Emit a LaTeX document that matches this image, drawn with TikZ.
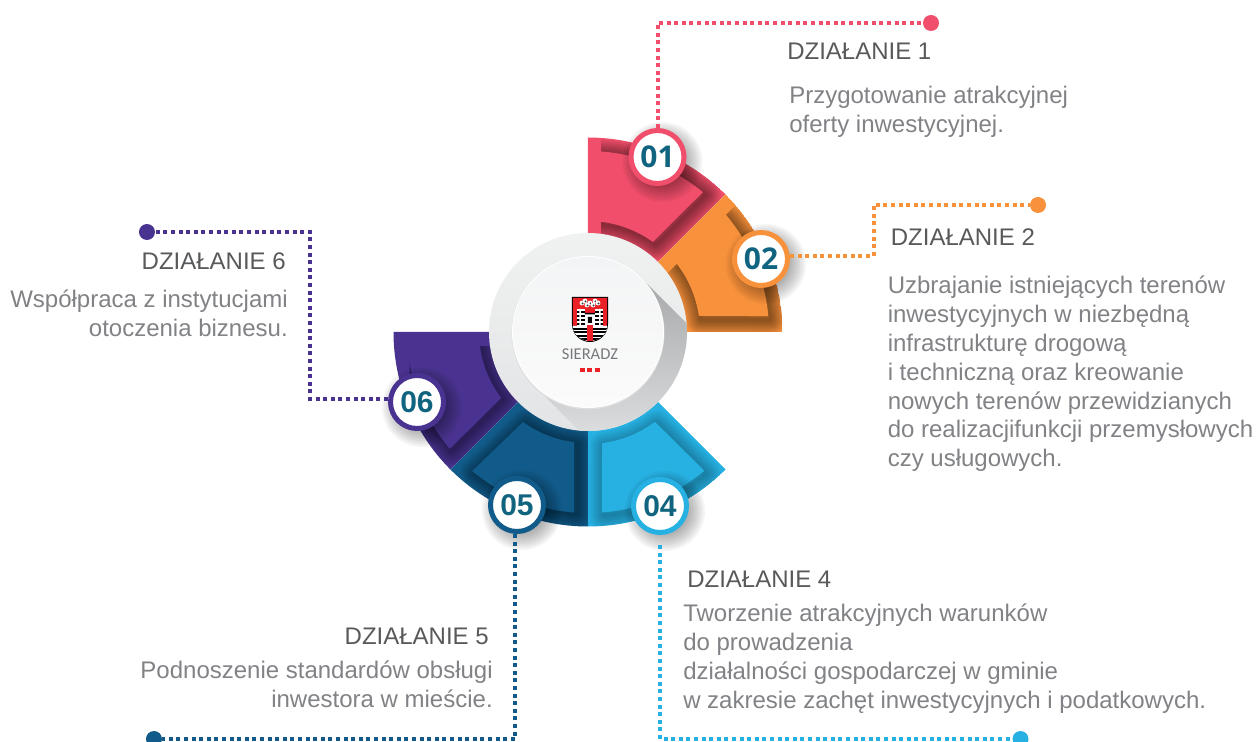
\documentclass[tikz,border=0pt]{standalone}
\usepackage{fontspec}
\setmainfont{Liberation Sans}
\newfontfamily\numalt{Open Sans}
\newfontfamily\logofont{Carlito}
\definecolor{cpink}{HTML}{F04E6A}
\definecolor{corange}{HTML}{F8913C}
\definecolor{cblue}{HTML}{27B1E3}
\definecolor{cnavy}{HTML}{115B8A}
\definecolor{cpurple}{HTML}{4A3390}
\definecolor{chead}{HTML}{58595B}
\definecolor{cbody}{HTML}{808285}
\definecolor{cnum}{HTML}{11647F}
\definecolor{discA}{HTML}{F0F1F1}
\definecolor{discB}{HTML}{E3E4E5}
\definecolor{longA}{HTML}{A6A8AA}
\definecolor{longB}{HTML}{E6E7E8}
\definecolor{rimg}{HTML}{DCDDDE}
\definecolor{faceA}{HTML}{F3F4F5}
\definecolor{faceB}{HTML}{FBFBFB}
\definecolor{logored}{HTML}{EA2227}
\definecolor{logotxt}{HTML}{77787B}
\newcommand{\fl}{\rule{0pt}{16pt}}
\newcommand{\shop}{.05}
\newcommand{\shclip}{(-300,-300) rectangle (300,300)}
\newcommand{\secp}[2]{(#1:90) -- (#1:194.5) arc[start angle=#1,end angle=#2,radius=194.5] -- (#2:90) arc[start angle=#2,end angle=#1,radius=90] -- cycle}
\newcommand{\inp}[6]{(#1:#5) arc[start angle=#1,end angle=#2,radius=#5] -- (#3:#6) arc[start angle=#3,end angle=#4,radius=#6] -- cycle}
\newcommand{\wedgeshape}[9]{%
  \begin{scope}
    \clip \secp{#2}{#3};
    \fill[#1] \secp{#2}{#3};
    \begin{scope}
      \clip \shclip;
      \begin{scope}[shift={#4}]
        \foreach \w in {30,27,...,3}{
          \path[draw=black,opacity=\shop,line width=\w*.75pt,line join=round] \inp{#5}{#6}{#7}{#8}{181}{#9};
        }
      \end{scope}
    \end{scope}
    \fill[#1] \inp{#5}{#6}{#7}{#8}{181}{#9};
  \end{scope}}
\newcommand{\bshadow}[1]{%
  \begin{scope}[shift={#1},shift={(5,-5)}]
    \foreach \r in {40,38,...,24}{\fill[black,opacity=.04] (0,0) circle[radius=\r];}
  \end{scope}}
\tikzset{
  conn/.style={line width=3pt,dash pattern=on 3pt off 2.7pt,draw=#1},
  enddot/.style={circle,fill=#1,inner sep=0pt,minimum size=12pt},
  badge/.style={circle,draw=#1,fill=white,line width=3.75pt,inner sep=0pt,minimum size=39.75pt,text=cnum,font=\fontsize{22.5}{24}\selectfont\bfseries},
  lefttxt/.style={anchor=north west,inner sep=0pt,align=left,yshift=16pt,font=\fontsize{18}{21.7}\selectfont},
  righttxt/.style={anchor=north east,inner sep=0pt,align=right,yshift=16pt,font=\fontsize{18}{21.7}\selectfont},
}
\begin{document}
\begin{tikzpicture}[x=0.75pt,y=0.75pt]
\useasboundingbox (-588,332) rectangle (668,-410);
% sectors
\renewcommand{\shclip}{(13,0) rectangle (220,220)}
\wedgeshape{cpink}{90}{45}{(3,-3)}{86.2}{50.6}{54.2}{84}{111}
\renewcommand{\shclip}{(70,49) -- (160,139) -- (300,139) -- (300,-10) -- (70,-10) -- cycle}
\wedgeshape{corange}{45}{0}{(2,-4)}{40.5}{5.05}{8.3}{37.9}{112}
\renewcommand{\shclip}{(-300,-300) rectangle (300,300)}
\renewcommand{\shop}{.028}
\wedgeshape{cblue}{-90}{-45}{(2,-3)}{-85.6}{-50}{-53.3}{-82.8}{112}
\renewcommand{\shop}{.042}
\wedgeshape{cnavy}{-135}{-90}{(3,-2)}{-129.8}{-94.4}{-97.2}{-125.8}{111}
\renewcommand{\shclip}{(-178,-15) rectangle (-60,-220)}
\wedgeshape{cpurple}{180}{225}{(2,-2)}{184.5}{220.2}{217.2}{187.4}{109}
% centre disc
\shade[top color=discA,bottom color=discB] (0,0) circle[radius=99];
\begin{scope}
  \clip (0,0) circle[radius=99];
  \shade[rotate=-45,top color=longA,bottom color=longB] (0,-76) rectangle (110,76);
\end{scope}
\fill[rimg] (0,-1) circle[radius=76.5];
\fill[white] (0,0) circle[radius=76];
\shade[top color=faceA,bottom color=faceB] (0,0) circle[radius=75];
% end dots
\node[enddot=cpink] (d1) at (343,309) {};
\node[enddot=corange] (d2) at (450,127) {};
\node[enddot=cblue] (d4) at (432.5,-407) {};
\node[enddot=cnavy] (d5) at (-434,-407) {};
\node[enddot=cpurple] (d6) at (-441,100) {};
% badge shadows
\bshadow{(69.5,175)}
\bshadow{(173,73)}
\bshadow{(72,-174)}
\bshadow{(-71,-173)}
\bshadow{(-171,-70)}
% badges
\node[badge=cpink,font=\fontsize{22.5}{24}\selectfont\numalt\bfseries] (b1) at (69.5,175) {01};
\node[badge=corange,font=\fontsize{22.5}{24}\selectfont\numalt\bfseries] (b2) at (173,73) {02};
\node[badge=cblue] (b4) at (72,-174) {04};
\node[badge=cnavy] (b5) at (-71,-173) {05};
\node[badge=cpurple] (b6) at (-171,-70) {06};
% connectors
\coordinate (c2) at (285.5,76);
\coordinate (c5) at (-73,-407);
\coordinate (c6) at (-278,-67);
\draw[conn=cpink] (b1.north) |- (d1);
\draw[conn=corange] (b2.east |- c2) -- (c2) |- (d2);
\draw[conn=cblue,shorten <=7.5pt] (b4.south) |- (d4);
\draw[conn=cnavy] (c5 |- b5.south) -- (c5) -- (d5);
\draw[conn=cpurple] (b6.west |- c6) -- (c6) |- (d6);
% coat of arms
\fill[black] (-16,35) -- (20,35) -- (20,8) .. controls (20,-4) and (10,-10) .. (2,-10) .. controls (-6,-10) and (-16,-4) .. (-16,8) -- cycle;
\fill[logored] (-15,34) -- (19,34) -- (19,8) .. controls (19,-3) and (9,-9) .. (2,-9) .. controls (-5,-9) and (-15,-3) .. (-15,8) -- cycle;
% eagle
\foreach \px/\py in {-6/29,-3/31,-1/27,2/29,5/27,7/31,10/29}{
  \fill[white] (\px,\py) circle[radius=2.4];
  \fill[black!75] (\px+.6,\py-.5) circle[radius=1.1];
}
% towers
\fill[white] (-11,23) rectangle (-3,4);
\fill[white] (7,23) rectangle (15,4);
\fill[white] (-3,19) rectangle (7,6);
\foreach \ty in {21,17,13,9}{
  \fill[black] (-11,\ty) rectangle (-3,\ty-1.6);
  \fill[black] (7,\ty) rectangle (15,\ty-1.6);
}
\fill[white] (-8.5,23) rectangle (-7,6) (11,23) rectangle (12.5,6);
\fill[black] (-3,19) rectangle (7,17.5) (0,15) rectangle (4,9);
% lower wall
\fill[white] (-15,6) -- (19,6) -- (19,4) .. controls (19,-3) and (9,-9) .. (2,-9) .. controls (-5,-9) and (-15,-3) .. (-15,4) -- cycle;
\begin{scope}
  \clip (-15,6) -- (19,6) -- (19,4) .. controls (19,-3) and (9,-9) .. (2,-9) .. controls (-5,-9) and (-15,-3) .. (-15,4) -- cycle;
  \foreach \ty in {4,0.5,-3,-6.5}{
    \fill[black] (-15,\ty) rectangle (19,\ty-1.7);
  }
\end{scope}
\fill[logored] (-1,7) rectangle (5,-9);
\node[inner sep=0pt,anchor=base,text=logotxt,font=\logofont\fontsize{12.4}{14}\selectfont] (logo) at (2,-28) {SIERADZ};
\foreach \q in {-8,-0.5,7}{
  \fill[logored] (\q,-36) rectangle ++(4.8,-4.4);
}
% texts
\node[lefttxt,text=chead] (h1) at (199,273) {\fl DZIAŁANIE 1};
\node[lefttxt,text=cbody] (t1) at (201,229) {\fl Przygotowanie atrakcyjnej\\oferty inwestycyjnej.};
\node[lefttxt,text=chead] (h2) at (302.6,87) {\fl DZIAŁANIE 2};
\node[lefttxt,text=cbody] (t2) at (299.5,39) {\fl Uzbrajanie istniejących terenów\\inwestycyjnych w niezbędną\\infrastrukturę drogową\\i techniczną oraz kreowanie\\nowych terenów przewidzianych\\do realizacjifunkcji przemysłowych\\czy usługowych.};
\node[lefttxt,text=chead] (h4) at (99,-255) {\fl DZIAŁANIE 4};
\node[lefttxt,text=cbody] (t4) at (95,-289) {\fl Tworzenie atrakcyjnych warunków\\do prowadzenia\\działalności gospodarczej w gminie\\w zakresie zachęt inwestycyjnych i podatkowych.};
\node[righttxt,text=chead] (h5) at (-99,-312) {\fl DZIAŁANIE 5};
\node[righttxt,text=cbody] (t5) at (-95,-346) {\fl Podnoszenie standardów obsługi\\inwestora w mieście.};
\node[righttxt,text=chead] (h6) at (-302,63) {\fl DZIAŁANIE 6};
\node[righttxt,text=cbody] (t6) at (-300,25) {\fl Współpraca z instytucjami\\otoczenia biznesu.};
\end{tikzpicture}
\end{document}
